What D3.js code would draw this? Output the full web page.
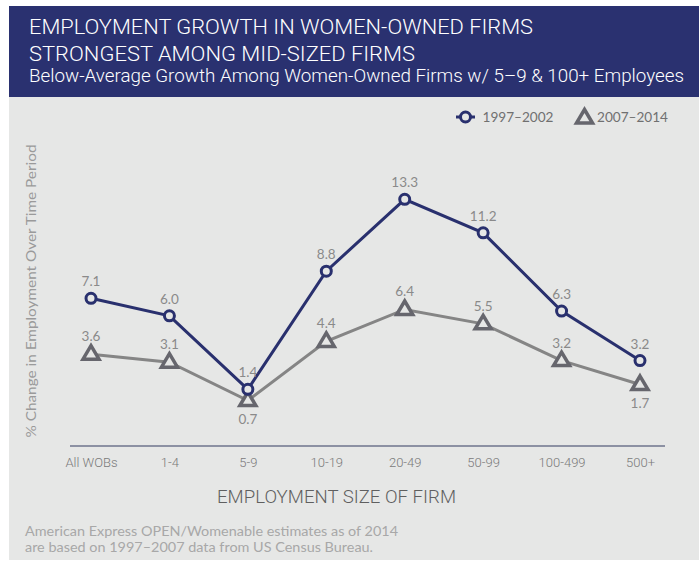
<!DOCTYPE html>
<html>
<head>
<meta charset="utf-8">
<script src="https://cdn.jsdelivr.net/npm/d3@7"></script>
<style>
  html, body { margin: 0; padding: 0; background: #ffffff; }
  svg { display: block; }
</style>
</head>
<body>
<svg id="chart" width="699" height="561"></svg>
<script>
// Firm size categories (employees)
const categories = ["All WOBs", "1-4", "5-9", "10-19", "20-49", "50-99", "100-499", "500+"];
// % change in employment, women-owned firms
const growth1997 = [7.1, 6.0, 1.4, 8.8, 13.3, 11.2, 6.3, 3.2];
const growth2007 = [3.6, 3.1, 0.7, 4.4, 6.4, 5.5, 3.2, 1.7];
const seriesNames = ["1997–2002", "2007–2014"];

const titleLines = ["EMPLOYMENT GROWTH IN WOMEN-OWNED FIRMS", "STRONGEST AMONG MID-SIZED FIRMS"];
const subtitle = "Below-Average Growth Among Women-Owned Firms w/ 5–9 & 100+ Employees";
const xTitle = "EMPLOYMENT SIZE OF FIRM";
const yTitle = "% Change in Employment Over Time Period";
const sourceLines = ["American Express OPEN/Womenable estimates as of 2014",
                     "are based on 1997–2007 data from US Census Bureau."];

const NAVY = "#29306e";
const GREY_LINE = "#858585";
const GREY_MARK = "#66666d";
const PANEL = "#e6e7e6";
const CONDENSED = "Roboto, 'Liberation Sans', sans-serif";
const ROUND = "Lato, 'Open Sans', sans-serif";

const svg = d3.select("#chart");

// banner and panel
svg.append("rect").attr("x", 9).attr("y", 6).attr("width", 690).attr("height", 91).attr("fill", "#2a3170");
svg.append("rect").attr("x", 9).attr("y", 97).attr("width", 690).attr("height", 463).attr("fill", PANEL);

// titles
const titleG = svg.append("g").attr("font-family", CONDENSED).attr("font-weight", 300).attr("fill", "#ffffff");
titleG.append("text").attr("x", 29).attr("y", 34).attr("font-size", 20)
  .attr("textLength", 504).attr("lengthAdjust", "spacingAndGlyphs").text(titleLines[0]);
titleG.append("text").attr("x", 29).attr("y", 61).attr("font-size", 20)
  .attr("textLength", 386).attr("lengthAdjust", "spacingAndGlyphs").text(titleLines[1]);
titleG.append("text").attr("x", 29).attr("y", 82).attr("font-size", 18)
  .attr("textLength", 655).attr("lengthAdjust", "spacingAndGlyphs").text(subtitle);

// scales
const x = d3.scalePoint().domain(categories).range([91, 640]);
const y = d3.scaleLinear().domain([0, 14]).range([411.7, 188.1]);

// x axis
const xAxis = d3.axisBottom(x).tickSize(0).tickPadding(12);
const xg = svg.append("g").attr("transform", "translate(0,446)").call(xAxis);
xg.select(".domain").remove();
xg.append("line").attr("x1", 70).attr("x2", 665).attr("y1", 0).attr("y2", 0)
  .attr("stroke", "#8c91a3").attr("stroke-width", 2);
xg.selectAll(".tick text")
  .attr("font-family", CONDENSED).attr("font-weight", 300)
  .attr("font-size", 13).attr("fill", "#7a7a7a");

svg.append("text").attr("x", 336.5).attr("y", 503).attr("text-anchor", "middle")
  .attr("font-family", CONDENSED).attr("font-weight", 300).attr("font-size", 19).attr("fill", "#5f5f5f")
  .attr("textLength", 239).attr("lengthAdjust", "spacingAndGlyphs").text(xTitle);

svg.append("text").attr("transform", "translate(36,291) rotate(-90)").attr("text-anchor", "middle")
  .attr("font-family", ROUND).attr("font-size", 13).attr("fill", "#9a9a9a")
  .attr("textLength", 293).attr("lengthAdjust", "spacingAndGlyphs").text(yTitle);

// lines
const line = d3.line().x((d, i) => x(categories[i])).y(d => y(d));
svg.append("path").datum(growth2007).attr("d", line).attr("fill", "none")
  .attr("stroke", GREY_LINE).attr("stroke-width", 3);
svg.append("path").datum(growth1997).attr("d", line).attr("fill", "none")
  .attr("stroke", NAVY).attr("stroke-width", 3);

// triangle marker centred on its centroid
const triPath = "M0,-8.5L8,5L-8,5Z";

svg.append("g").selectAll("path").data(growth2007).join("path")
  .attr("transform", (d, i) => `translate(${x(categories[i])},${y(d)})`)
  .attr("d", triPath).attr("fill", PANEL).attr("stroke", GREY_MARK)
  .attr("stroke-width", 3.5).attr("stroke-linejoin", "miter");

svg.append("g").selectAll("circle").data(growth1997).join("circle")
  .attr("cx", (d, i) => x(categories[i])).attr("cy", d => y(d)).attr("r", 5)
  .attr("fill", PANEL).attr("stroke", NAVY).attr("stroke-width", 3);

// value labels
const labelG = svg.append("g").attr("font-family", ROUND).attr("font-size", 13.5)
  .attr("fill", "#8a8a8a").attr("text-anchor", "middle");
labelG.selectAll("text.a").data(growth1997).join("text").attr("class", "a")
  .attr("x", (d, i) => x(categories[i])).attr("y", d => y(d) - 12)
  .text(d => d.toFixed(1));
// grey labels sit below the point where the navy line would overlap them
const belowIdx = new Set([2, 7]);
labelG.selectAll("text.b").data(growth2007).join("text").attr("class", "b")
  .attr("x", (d, i) => x(categories[i]))
  .attr("y", (d, i) => belowIdx.has(i) ? y(d) + 23 : y(d) - 13)
  .text(d => d.toFixed(1));

// legend
const lg = svg.append("g").attr("font-family", ROUND).attr("font-size", 14).attr("fill", "#707070");
lg.append("line").attr("x1", 456).attr("x2", 475).attr("y1", 117).attr("y2", 117)
  .attr("stroke", NAVY).attr("stroke-width", 3);
lg.append("circle").attr("cx", 465.5).attr("cy", 117).attr("r", 5)
  .attr("fill", PANEL).attr("stroke", NAVY).attr("stroke-width", 3);
lg.append("text").attr("x", 482.5).attr("y", 122).attr("textLength", 71)
  .attr("lengthAdjust", "spacingAndGlyphs").text(seriesNames[0]);
lg.append("line").attr("x1", 576).attr("x2", 593).attr("y1", 122).attr("y2", 122)
  .attr("stroke", GREY_MARK).attr("stroke-width", 3);
lg.append("path").attr("transform", "translate(584.5,118)").attr("d", triPath)
  .attr("fill", PANEL).attr("stroke", GREY_MARK).attr("stroke-width", 3.5);
lg.append("text").attr("x", 597).attr("y", 122).attr("textLength", 71)
  .attr("lengthAdjust", "spacingAndGlyphs").text(seriesNames[1]);

// source note
const src = svg.append("g").attr("font-family", ROUND).attr("font-size", 12.5).attr("fill", "#a8a8a8");
src.append("text").attr("x", 25).attr("y", 536).attr("textLength", 373)
  .attr("lengthAdjust", "spacingAndGlyphs").text(sourceLines[0]);
src.append("text").attr("x", 25).attr("y", 552).attr("textLength", 348)
  .attr("lengthAdjust", "spacingAndGlyphs").text(sourceLines[1]);
</script>
</body>
</html>
